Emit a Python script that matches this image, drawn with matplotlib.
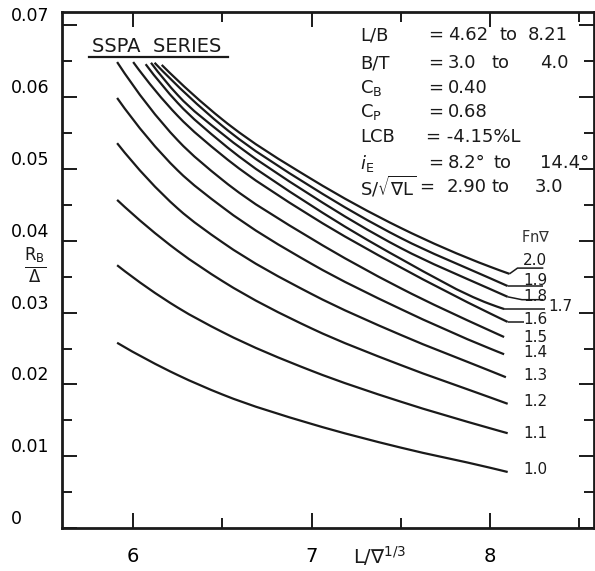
import matplotlib
matplotlib.use("Agg")
import matplotlib.pyplot as plt
from matplotlib.path import Path
from matplotlib.patches import PathPatch
from matplotlib.lines import Line2D
from matplotlib.ticker import MultipleLocator, FixedLocator, FixedFormatter

plt.rcParams["font.family"] = ["DejaVu Sans"]
plt.rcParams["mathtext.fontset"] = "dejavusans"

# Residuary resistance ratio R_B/Delta versus slenderness L/V^(1/3), SSPA series
fn_labels = ["1.0", "1.1", "1.2", "1.3", "1.4", "1.5", "1.6", "1.7", "1.8", "1.9", "2.0"]

x_10 = [5.91, 6.25, 6.50, 7.00, 7.50, 8.00, 8.10]
y_10 = [0.0258, 0.0213, 0.0186, 0.0145, 0.0112, 0.0084, 0.0078]
x_11 = [5.91, 6.25, 6.50, 7.00, 7.50, 8.00, 8.10]
y_11 = [0.0366, 0.0307, 0.0273, 0.0219, 0.0176, 0.0139, 0.0132]
x_12 = [5.91, 6.25, 6.50, 7.00, 7.50, 8.00, 8.10]
y_12 = [0.0457, 0.0386, 0.0344, 0.0278, 0.0227, 0.0182, 0.0173]
x_13 = [5.91, 6.25, 6.50, 7.00, 7.50, 8.00, 8.09]
y_13 = [0.0536, 0.0445, 0.0398, 0.0326, 0.0269, 0.0219, 0.0210]
x_14 = [5.91, 6.25, 6.50, 7.00, 7.50, 8.00, 8.08]
y_14 = [0.0599, 0.0498, 0.0447, 0.0368, 0.0305, 0.0250, 0.0242]
x_15 = [5.91, 6.25, 6.50, 7.00, 7.50, 8.00, 8.08]
y_15 = [0.0649, 0.0540, 0.0485, 0.0403, 0.0334, 0.0275, 0.0266]
x_16 = [6.00, 6.25, 6.50, 7.00, 7.50, 8.00, 8.10]
y_16 = [0.0649, 0.0574, 0.0519, 0.0434, 0.0363, 0.0299, 0.0287]
x_17 = [6.07, 6.25, 6.50, 7.00, 7.50, 8.00, 8.08]
y_17 = [0.0646, 0.0592, 0.0536, 0.0449, 0.0375, 0.0312, 0.0305]
x_18 = [6.10, 6.25, 6.50, 7.00, 7.50, 8.00, 8.10]
y_18 = [0.0648, 0.0603, 0.0549, 0.0463, 0.0390, 0.0333, 0.0322]
x_19 = [6.12, 6.50, 7.00, 7.50, 8.00, 8.10]
y_19 = [0.0648, 0.0560, 0.0475, 0.0404, 0.0348, 0.0337]
x_20 = [6.16, 6.50, 7.00, 7.50, 8.00, 8.11]
y_20 = [0.0645, 0.0569, 0.0486, 0.0418, 0.0364, 0.0354]

curves_x = [x_10, x_11, x_12, x_13, x_14, x_15, x_16, x_17, x_18, x_19, x_20]
curves_y = [y_10, y_11, y_12, y_13, y_14, y_15, y_16, y_17, y_18, y_19, y_20]

# label anchor (x, y) for each curve
label_x = [8.185, 8.185, 8.185, 8.185, 8.185, 8.185, 8.185, 8.33, 8.185, 8.185, 8.185]
label_y = [0.0081, 0.0132, 0.0176, 0.0213, 0.0245, 0.0266, 0.0290, 0.0309, 0.0322, 0.0345, 0.0372]
# leader lines from curve ends towards their labels
leaders = {
    6: ([8.10, 8.19], [0.0287, 0.0287]),
    7: ([8.08, 8.31], [0.0305, 0.0305]),
    8: ([8.10, 8.18, 8.30], [0.0322, 0.0318, 0.0318]),
    9: ([8.10, 8.30], [0.0337, 0.0337]),
    10: ([8.11, 8.155, 8.30], [0.0354, 0.0362, 0.0362]),
}

x_ticks_major = [6, 7, 8]
x_tick_labels = ["6", "7", "8"]
y_ticks_major = [0.0, 0.01, 0.02, 0.03, 0.04, 0.05, 0.06, 0.07]
y_tick_labels = ["0", "0.01", "0.02", "0.03", "0.04", "0.05", "0.06", "0.07"]

W, H = 595, 571
INK = "#1a1a1a"


def fx(px):
    return px / W


def fy(py):
    return 1 - py / H


def smooth_path(xs, ys):
    """Piecewise cubic Hermite curve through the points, as Bezier segments."""
    n = len(xs)
    h = [xs[i + 1] - xs[i] for i in range(n - 1)]
    d = [(ys[i + 1] - ys[i]) / h[i] for i in range(n - 1)]
    m = [0.0] * n
    for i in range(1, n - 1):
        m[i] = (d[i - 1] * h[i] + d[i] * h[i - 1]) / (h[i - 1] + h[i])
    m[0] = ((2 * h[0] + h[1]) * d[0] - h[0] * d[1]) / (h[0] + h[1])
    m[-1] = ((2 * h[-1] + h[-2]) * d[-1] - h[-1] * d[-2]) / (h[-1] + h[-2])
    verts = [(xs[0], ys[0])]
    codes = [Path.MOVETO]
    for i in range(n - 1):
        c1 = (xs[i] + h[i] / 3, ys[i] + m[i] * h[i] / 3)
        c2 = (xs[i + 1] - h[i] / 3, ys[i + 1] - m[i + 1] * h[i] / 3)
        verts += [c1, c2, (xs[i + 1], ys[i + 1])]
        codes += [Path.CURVE4] * 3
    return Path(verts, codes)


fig = plt.figure(figsize=(W / 100, H / 100), dpi=100)
ax = fig.add_axes([fx(62), fy(528), (594 - 62) / W, (528 - 12) / H])
ax.set_xlim(5.601, 8.584)
ax.set_ylim(0.0, 0.07187)

for xs, ys in zip(curves_x, curves_y):
    ax.add_patch(PathPatch(smooth_path(xs, ys), facecolor="none",
                           edgecolor=INK, lw=1.6, transform=ax.transData))

for i, lab in enumerate(fn_labels):
    if i in leaders:
        lx, ly = leaders[i]
        ax.plot(lx, ly, color=INK, lw=1.1, solid_capstyle="butt")
    ax.text(label_x[i], label_y[i], lab, fontsize=11, color=INK,
            ha="left", va="center")

ax.text(8.175, 0.0405, r"Fn$\nabla$", fontsize=10.5, color="#333333",
        ha="left", va="center")

# axes frame and ticks
for sp in ax.spines.values():
    sp.set_linewidth(2.0)
    sp.set_color(INK)

ax.xaxis.set_major_locator(FixedLocator(x_ticks_major))
ax.xaxis.set_major_formatter(FixedFormatter(x_tick_labels))
ax.xaxis.set_minor_locator(MultipleLocator(0.5))
ax.yaxis.set_major_locator(FixedLocator(y_ticks_major))
ax.yaxis.set_major_formatter(FixedFormatter(y_tick_labels))
ax.yaxis.set_minor_locator(MultipleLocator(0.005))

ax.tick_params(which="both", direction="in", top=True, right=True,
               color=INK, width=1.4)
ax.tick_params(which="major", length=11)
ax.tick_params(which="minor", length=7)
ax.tick_params(axis="x", which="major", labelsize=14, pad=14)
ax.tick_params(axis="y", which="major", labelsize=12.5, pad=36.5)
for lab in ax.get_yticklabels():
    lab.set_verticalalignment("bottom")
    lab.set_horizontalalignment("left")

# axis titles
fig.text(fx(35), fy(266), r"$\frac{\mathrm{R_B}}{\Delta}$", fontsize=17,
         ha="center", va="center", color=INK)
fig.text(fx(380), fy(556), r"L/$\nabla^{1/3}$", fontsize=14,
         ha="center", va="center", color=INK)

# series heading, underlined
fig.text(fx(92), fy(47), "SSPA  SERIES", fontsize=14, ha="left",
         va="center", color=INK)
fig.add_artist(Line2D([fx(89), fx(228)], [fy(57), fy(57)],
                      transform=fig.transFigure, color=INK, lw=1.6))

# hull parameter table
rows = [
    (35, [(360, "L/B"), (428, "="), (448, "4.62"), (500, "to"), (528, "8.21")]),
    (63, [(360, "B/T"), (428, "="), (448, "3.0"), (492, "to"), (540, "4.0")]),
    (88, [(360, r"C$_\mathrm{B}$"), (428, "="), (448, "0.40")]),
    (112, [(360, r"C$_\mathrm{P}$"), (428, "="), (448, "0.68")]),
    (137, [(360, "LCB"), (426, "= -4.15%L")]),
    (163, [(360, r"$\mathit{i}_\mathrm{E}$"), (428, "="), (448, "8.2°"),
           (493, "to"), (540, "14.4°")]),
    (187, [(360, r"S/$\sqrt{\nabla\mathrm{L}}$"), (419, "="), (447, "2.90"),
           (492, "to"), (535, "3.0")]),
]
for py, items in rows:
    for px, s in items:
        fig.text(fx(px), fy(py), s, fontsize=13, ha="left", va="center",
                 color=INK)

fig.savefig("out.png", dpi=100, facecolor="white")
